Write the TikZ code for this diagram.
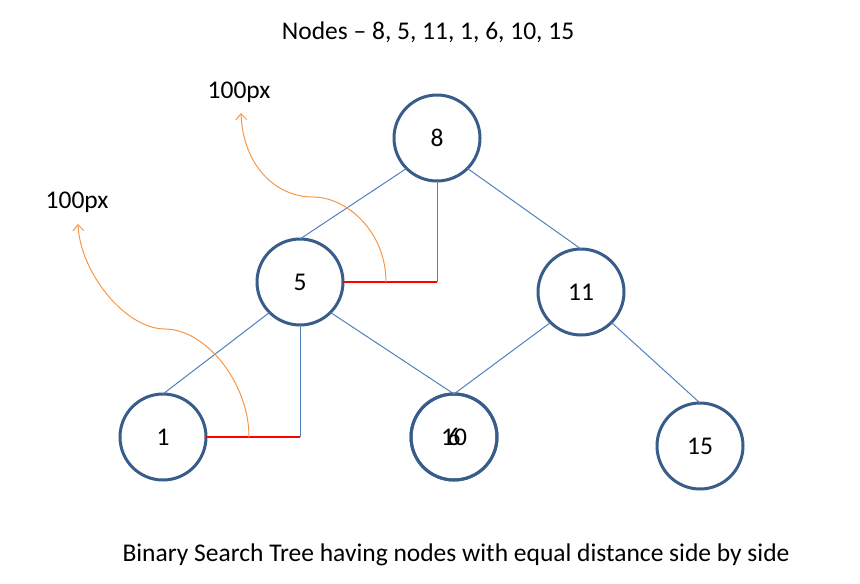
\documentclass[tikz,border=0pt]{standalone}
\usepackage{fontspec}
\setmainfont{Carlito}
\usetikzlibrary{arrows.meta}
\definecolor{circ}{RGB}{56,93,138}
\definecolor{edgeblue}{RGB}{79,129,189}
\definecolor{arcorange}{RGB}{247,150,70}
\begin{document}
\begin{tikzpicture}[x=1pt,y=-1pt,
  bst/.style={circle,draw=circ,line width=3pt,minimum size=86pt,inner sep=0pt,outer sep=0pt,font=\fontsize{25.5}{30}\selectfont},
  plaintext/.style={anchor=base,inner sep=0pt,font=\fontsize{25.5}{30}\selectfont},
  treeedge/.style={draw=edgeblue,line width=1pt},
  redseg/.style={draw=red,line width=1.4pt},
  measure/.style={draw=arcorange,line width=1pt,-{Straight Barb[length=6pt,width=11pt]}}]
\useasboundingbox (0,0) rectangle (860,584);

\node[plaintext] (title) at (428,39) {Nodes – 8, 5, 11, 1, 6, 10, 15};
\node[plaintext] (caption) at (456,561) {Binary Search Tree having nodes with equal distance side by side};
\node[plaintext] (lblA) at (239,98) {100px};
\node[plaintext] (lblB) at (77,208) {100px};

\node[bst] (n8) at (437,138) {8};
\node[bst] (n5) at (300,282) {5};
\node[bst] (n11) at (581,292) {11};
\node[bst] (n1) at (163,437) {1};
\node[bst] (n10) at (454,437) {10};
\node[bst] (n6) at (454,437) {6};
\node[bst] (n15) at (700,446) {15};

\draw[treeedge] (n8.south west) -- (n5.north);
\draw[treeedge] (n8.south east) -- (n11.north);
\draw[treeedge] (n5.south west) -- (n1.north);
\draw[treeedge] (n5.south east) -- (n10.north);
\draw[treeedge] (n11.south west) -- (n10.north);
\draw[treeedge] (n11.south east) -- (n15.north);

\coordinate (cA) at (n8.south |- n5.east);
\coordinate (cB) at (n5.south |- n1.east);
\draw[treeedge] (n8.south) -- (cA);
\draw[treeedge] (n5.south) -- (cB);
\draw[redseg] (n5.east) -- (cA);
\draw[redseg] (n1.east) -- (cB);

\coordinate (sA) at (386,282);
\coordinate (mA) at (313,197);
\coordinate (tA) at (241,113);
\coordinate (sB) at (249,437);
\coordinate (mB) at (165,329);
\coordinate (tB) at (78,224);
\draw[measure] (sA) .. controls (386,232) and (347,197) .. (mA)
  .. controls (275,197) and (243,165) .. (tA);
\draw[measure] (sB) .. controls (249,382) and (205,329) .. (mB)
  .. controls (125,329) and (80,272) .. (tB);
\end{tikzpicture}
\end{document}
